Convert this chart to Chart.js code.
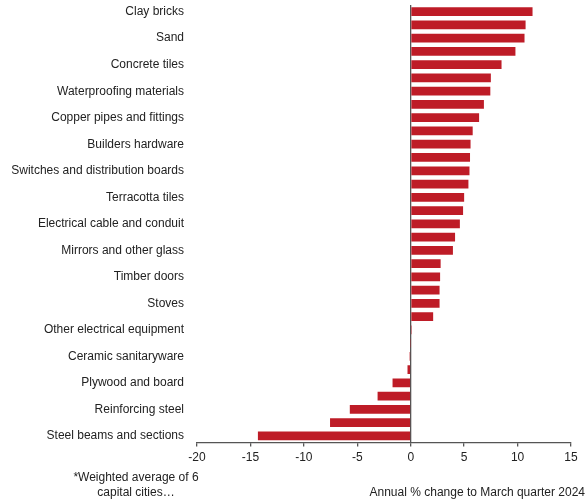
<!DOCTYPE html>
<html>
<head>
<meta charset="utf-8">
<script src="https://cdn.jsdelivr.net/npm/chart.js@4/dist/chart.umd.min.js"></script>
<style>
  html, body { margin: 0; padding: 0; background: #fff; }
  #wrap { position: relative; width: 586px; height: 499px; font-family: "Liberation Sans", Arial, sans-serif; color: #222; }
  #chart { position: absolute; left: 0; top: 0; }
  .note { position: absolute; font-size: 12px; line-height: 15px; white-space: nowrap; }
  #footnote { left: 56px; top: 470px; width: 160px; text-align: center; }
  #axisTitle { right: 1px; top: 485px; text-align: right; }
</style>
</head>
<body>
<div id="wrap">
  <canvas id="chart" width="586" height="499"></canvas>
  <div id="footnote" class="note">*Weighted average of 6<br>capital cities…</div>
  <div id="axisTitle" class="note">Annual % change to March quarter 2024</div>
</div>
<script>
// Categories (only every other one is labelled in the source)
const categories = [
  'Clay bricks', '', 'Sand', '', 'Concrete tiles', '', 'Waterproofing materials', '',
  'Copper pipes and fittings', '', 'Builders hardware', '', 'Switches and distribution boards', '',
  'Terracotta tiles', '', 'Electrical cable and conduit', '', 'Mirrors and other glass', '',
  'Timber doors', '', 'Stoves', '', 'Other electrical equipment', '', 'Ceramic sanitaryware', '',
  'Plywood and board', '', 'Reinforcing steel', '', 'Steel beams and sections'
];

// Annual % change, March quarter 2024
const changes = [
  11.4, 10.75, 10.65, 9.8, 8.5, 7.5, 7.45, 6.85, 6.4, 5.8, 5.6,
  5.55, 5.5, 5.4, 5.0, 4.9, 4.6, 4.15, 3.95, 2.8, 2.75, 2.7,
  2.7, 2.1, 0.1, -0.03, -0.1, -0.3, -1.7, -3.1, -5.7, -7.55, -14.3
];

const xTicks = [-20, -15, -10, -5, 0, 5, 10, 15];

const axisColor = '#555';
const barColor = '#be1c27';
const tickFont = { family: '"Liberation Sans", Arial, sans-serif', size: 12 };

const ctx = document.getElementById('chart').getContext('2d');
const chart = new Chart(ctx, {
  type: 'bar',
  data: {
    labels: categories,
    datasets: [{
      data: changes,
      backgroundColor: barColor,
      borderWidth: 0,
      barPercentage: 0.66,
      categoryPercentage: 1.0
    }]
  },
  options: {
    indexAxis: 'y',
    responsive: false,
    animation: false,
    layout: { padding: { top: 5, right: 15, bottom: 30, left: 0 } },
    plugins: { legend: { display: false }, tooltip: { enabled: false } },
    scales: {
      x: {
        min: -20,
        max: 15,
        afterBuildTicks: scale => { scale.ticks = xTicks.map(v => ({ value: v })); },
        grid: {
          color: c => (c.tick && c.tick.value === 0 ? axisColor : 'transparent'),
          lineWidth: 1.3,
          drawTicks: true,
          tickLength: 4,
          tickColor: axisColor
        },
        border: { display: true, color: axisColor, width: 1.3 },
        ticks: { color: '#222', font: tickFont, padding: 4, maxRotation: 0 }
      },
      y: {
        afterFit: scale => {
          scale.width = 197;
          scale.paddingTop = 0;
          scale.paddingBottom = 0;
        },
        grid: { display: false, drawTicks: false },
        border: { display: false },
        ticks: { autoSkip: false, color: '#222', font: tickFont, padding: 13 }
      }
    }
  }
});
</script>
</body>
</html>
